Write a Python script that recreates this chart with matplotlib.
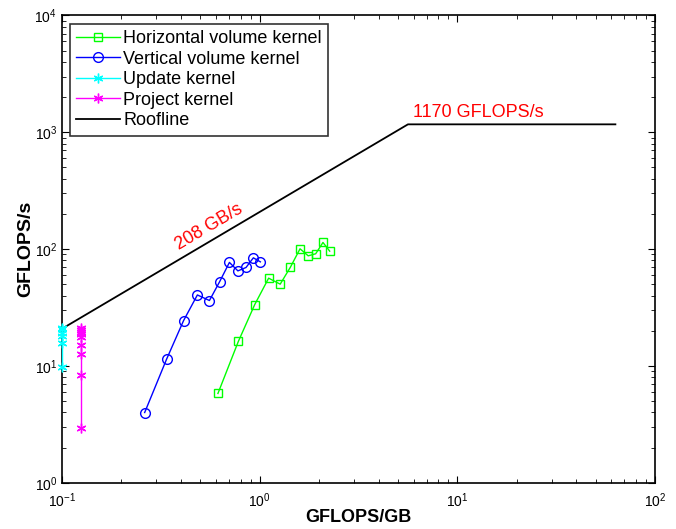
import matplotlib
matplotlib.use("Agg")
import matplotlib.pyplot as plt
import numpy as np

plt.rcParams['font.family'] = ['Liberation Sans', 'DejaVu Sans']

# Horizontal volume kernel
hx = [0.615, 0.780, 0.944, 1.11, 1.27, 1.43, 1.60, 1.76, 1.92, 2.09, 2.26]
hy = [5.81, 16.2, 33.5, 56.4, 50.1, 70.0, 100.6, 87.6, 91.2, 114, 96.1]

# Vertical volume kernel
vx = [0.262, 0.338, 0.412, 0.484, 0.557, 0.628, 0.703, 0.776, 0.853, 0.929, 1.008]
vy = [3.99, 11.4, 24.4, 40.5, 36.3, 52.8, 76.9, 65.1, 69.6, 84.2, 77.8]

# Update kernel
ux = [0.1, 0.1, 0.1, 0.1, 0.1, 0.1]
uy = [21.3, 20.6, 19.3, 18.0, 15.6, 9.85]

# Project kernel
px = [0.125] * 9
py = [21.1, 20.3, 19.5, 18.7, 17.8, 15.2, 12.7, 8.44, 2.94]

# roofline
bandwidth = 208.0
peak = 1170.0
roof_x = [0.1, peak / bandwidth, 63.0]
roof_y = [bandwidth * 0.1, peak, peak]

fig = plt.figure(figsize=(6.76, 5.29), dpi=100)
ax = fig.add_axes([0.0917, 0.0875, 0.8773, 0.8832])

ax.plot(hx, hy, color='#00ff00', marker='s', markersize=5.5, markerfacecolor='none',
        linewidth=1, label='Horizontal volume kernel')
ax.plot(vx, vy, color='#0000ff', marker='o', markersize=7, markerfacecolor='none',
        linewidth=1, label='Vertical volume kernel')
ax.plot(ux, uy, color='#00ffff', marker=(6, 2, 0), markersize=7,
        linewidth=1, label='Update kernel', clip_on=False, zorder=3)
ax.plot(px, py, color='#ff00ff', marker=(6, 2, 0), markersize=7,
        linewidth=1, label='Project kernel', clip_on=False)
ax.plot(roof_x, roof_y, color='black', linewidth=1.3, label='Roofline')

ax.set_xscale('log')
ax.set_yscale('log')
ax.set_xlim(0.1, 100)
ax.set_ylim(1, 1e4)

ax.text(peak / bandwidth * 1.06, peak * 1.06, '1170 GFLOPS/s', color='red', fontsize=13,
        ha='left', va='bottom')
ax.text(0.40, bandwidth * 0.40 * 1.1, '208 GB/s', color='red', fontsize=13,
        ha='left', va='bottom', rotation=30.6, rotation_mode='anchor')

ax.set_xlabel('GFLOPS/GB', fontsize=13, fontweight='bold', labelpad=-1)
ax.set_ylabel('GFLOPS/s', fontsize=14, fontweight='bold', labelpad=0)

ax.tick_params(which='both', direction='in', top=True, right=True, labelsize=10)
ax.tick_params(which='major', length=5)
ax.tick_params(which='minor', length=3)
ax.tick_params(axis='x', which='major', pad=6.5)
for s in ax.spines.values():
    s.set_linewidth(1.2)

leg = ax.legend(loc='upper left', fontsize=13, frameon=True, fancybox=False,
                edgecolor='black', handlelength=2.4, handletextpad=0.2,
                borderpad=0.35, labelspacing=0.2, borderaxespad=0.45)
leg.get_frame().set_linewidth(1.2)

fig.savefig('out.png', dpi=100)
